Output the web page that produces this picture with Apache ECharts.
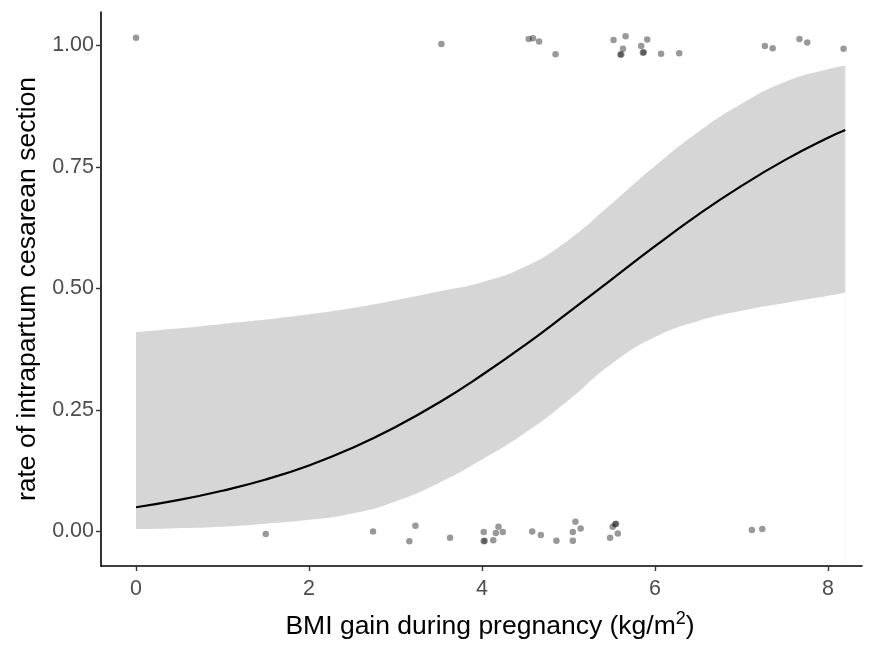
<!DOCTYPE html>
<html>
<head>
<meta charset="utf-8">
<script src="https://cdn.jsdelivr.net/npm/echarts@6/dist/echarts.min.js"></script>
<style>
html,body{margin:0;padding:0;background:#fff;overflow:hidden;}
#chart{width:870px;height:645px;}
</style>
</head>
<body>
<div id="chart"></div>
<script>
// fitted curve and confidence band
var gridX = [0, 0.5, 1, 1.5, 2, 2.5, 3, 3.5, 4, 4.5, 5, 5.5, 6, 6.5, 7, 7.5, 8, 8.2];
var fitY  = [0.050, 0.065, 0.084, 0.107, 0.136, 0.172, 0.215, 0.265, 0.322, 0.384, 0.451, 0.519, 0.587, 0.652, 0.711, 0.764, 0.810, 0.826];
var lowY  = [0.005, 0.007, 0.010, 0.016, 0.024, 0.037, 0.062, 0.100, 0.148, 0.203, 0.270, 0.345, 0.400, 0.433, 0.454, 0.470, 0.485, 0.492];
var highY = [0.410, 0.418, 0.427, 0.436, 0.447, 0.460, 0.476, 0.494, 0.513, 0.545, 0.600, 0.675, 0.752, 0.822, 0.880, 0.925, 0.951, 0.958];

// jittered observations
var obsX = [0.00, 3.53, 4.54, 4.59, 4.66, 4.85, 5.52, 5.66, 5.63, 5.60, 5.61, 5.84, 5.91, 5.86, 5.87, 6.07, 6.28, 7.27, 7.36, 7.67, 7.76, 8.18,
            1.50, 2.74, 3.23, 3.16, 3.63, 4.02, 4.02, 4.03, 4.13, 4.19, 4.16, 4.24, 4.58, 4.68, 4.86, 5.08, 5.14, 5.05, 5.05, 5.54, 5.55, 5.51, 5.57, 5.48, 7.12, 7.24];
var obsY = [1.016, 1.003, 1.013, 1.015, 1.008, 0.982, 1.011, 1.019, 0.993, 0.981, 0.982, 0.999, 1.012, 0.985, 0.986, 0.983, 0.984, 0.999, 0.994, 1.013, 1.006, 0.993,
            -0.005, 0.000, 0.012, -0.020, -0.013, -0.001, -0.020, -0.019, -0.018, 0.010, -0.003, -0.001, 0.000, -0.007, -0.019, 0.020, 0.006, -0.001, -0.019, 0.015, 0.016, 0.010, -0.004, -0.013, 0.003, 0.005];

var xTicks = [0, 2, 4, 6, 8];
var yTicks = [0, 0.25, 0.5, 0.75, 1];

var chart = echarts.init(document.getElementById('chart'), null, {renderer: 'canvas'});

function pairs(xs, ys) { return xs.map(function (x, i) { return [x, ys[i]]; }); }

var option = {
  animation: false,
  backgroundColor: '#ffffff',
  grid: {left: 101, right: 8, top: 12, bottom: 70, containLabel: false},
  xAxis: {
    type: 'value', min: -0.405, max: 8.393, z: 10,
    name: '{a|BMI gain during pregnancy (kg/m}{s|2}{a|)}',
    nameLocation: 'middle', nameGap: 44,
    nameTextStyle: {padding: [0, 0, 0, 17], rich: {
      a: {fontFamily: 'Liberation Sans', fontSize: 26.5, color: '#000'},
      s: {fontFamily: 'Liberation Sans', fontSize: 18, color: '#000', verticalAlign: 'top', padding: [0, 0, 15, 0]}
    }},
    axisLine: {show: true, onZero: false, lineStyle: {color: '#000', width: 1.6}},
    axisTick: {show: true, customValues: xTicks, length: 5, lineStyle: {color: '#333', width: 1.4}},
    axisLabel: {customValues: xTicks, margin: 12, fontFamily: 'Liberation Sans', fontSize: 21.5, color: '#4d4d4d'},
    splitLine: {show: false}
  },
  yAxis: {
    type: 'value', min: -0.0709, max: 1.0688, z: 10,
    name: 'rate of intrapartum cesarean section',
    nameLocation: 'middle', nameGap: 58, nameRotate: 90,
    nameTextStyle: {fontFamily: 'Liberation Sans', fontSize: 26.5, color: '#000'},
    axisLine: {show: true, onZero: false, lineStyle: {color: '#000', width: 1.6}},
    axisTick: {show: true, customValues: yTicks, length: 5, lineStyle: {color: '#333', width: 1.4}},
    axisLabel: {customValues: yTicks, margin: 7, fontFamily: 'Liberation Sans', fontSize: 21.5, color: '#4d4d4d',
      formatter: function (v) { return v.toFixed(2); }},
    splitLine: {show: false}
  },
  series: [
    {
      type: 'line', name: 'upper', data: pairs(gridX, highY),
      symbol: 'none', smooth: true, lineStyle: {width: 0, opacity: 0},
      areaStyle: {color: '#d6d6d6', opacity: 1, origin: 'start'}, silent: true, z: 1
    },
    {
      type: 'line', name: 'lower', data: pairs(gridX, lowY),
      symbol: 'none', smooth: true, lineStyle: {width: 0, opacity: 0},
      areaStyle: {color: '#ffffff', opacity: 1, origin: 'start'}, silent: true, z: 1
    },
    {
      type: 'line', name: 'fit', data: pairs(gridX, fitY),
      symbol: 'none', smooth: true, lineStyle: {color: '#000', width: 2.2}, z: 3
    },
    {
      type: 'scatter', name: 'obs', data: pairs(obsX, obsY),
      symbolSize: 6.5, itemStyle: {color: 'rgba(0,0,0,0.5)'}, z: 4
    }
  ]
};
chart.setOption(option);
</script>
</body>
</html>
